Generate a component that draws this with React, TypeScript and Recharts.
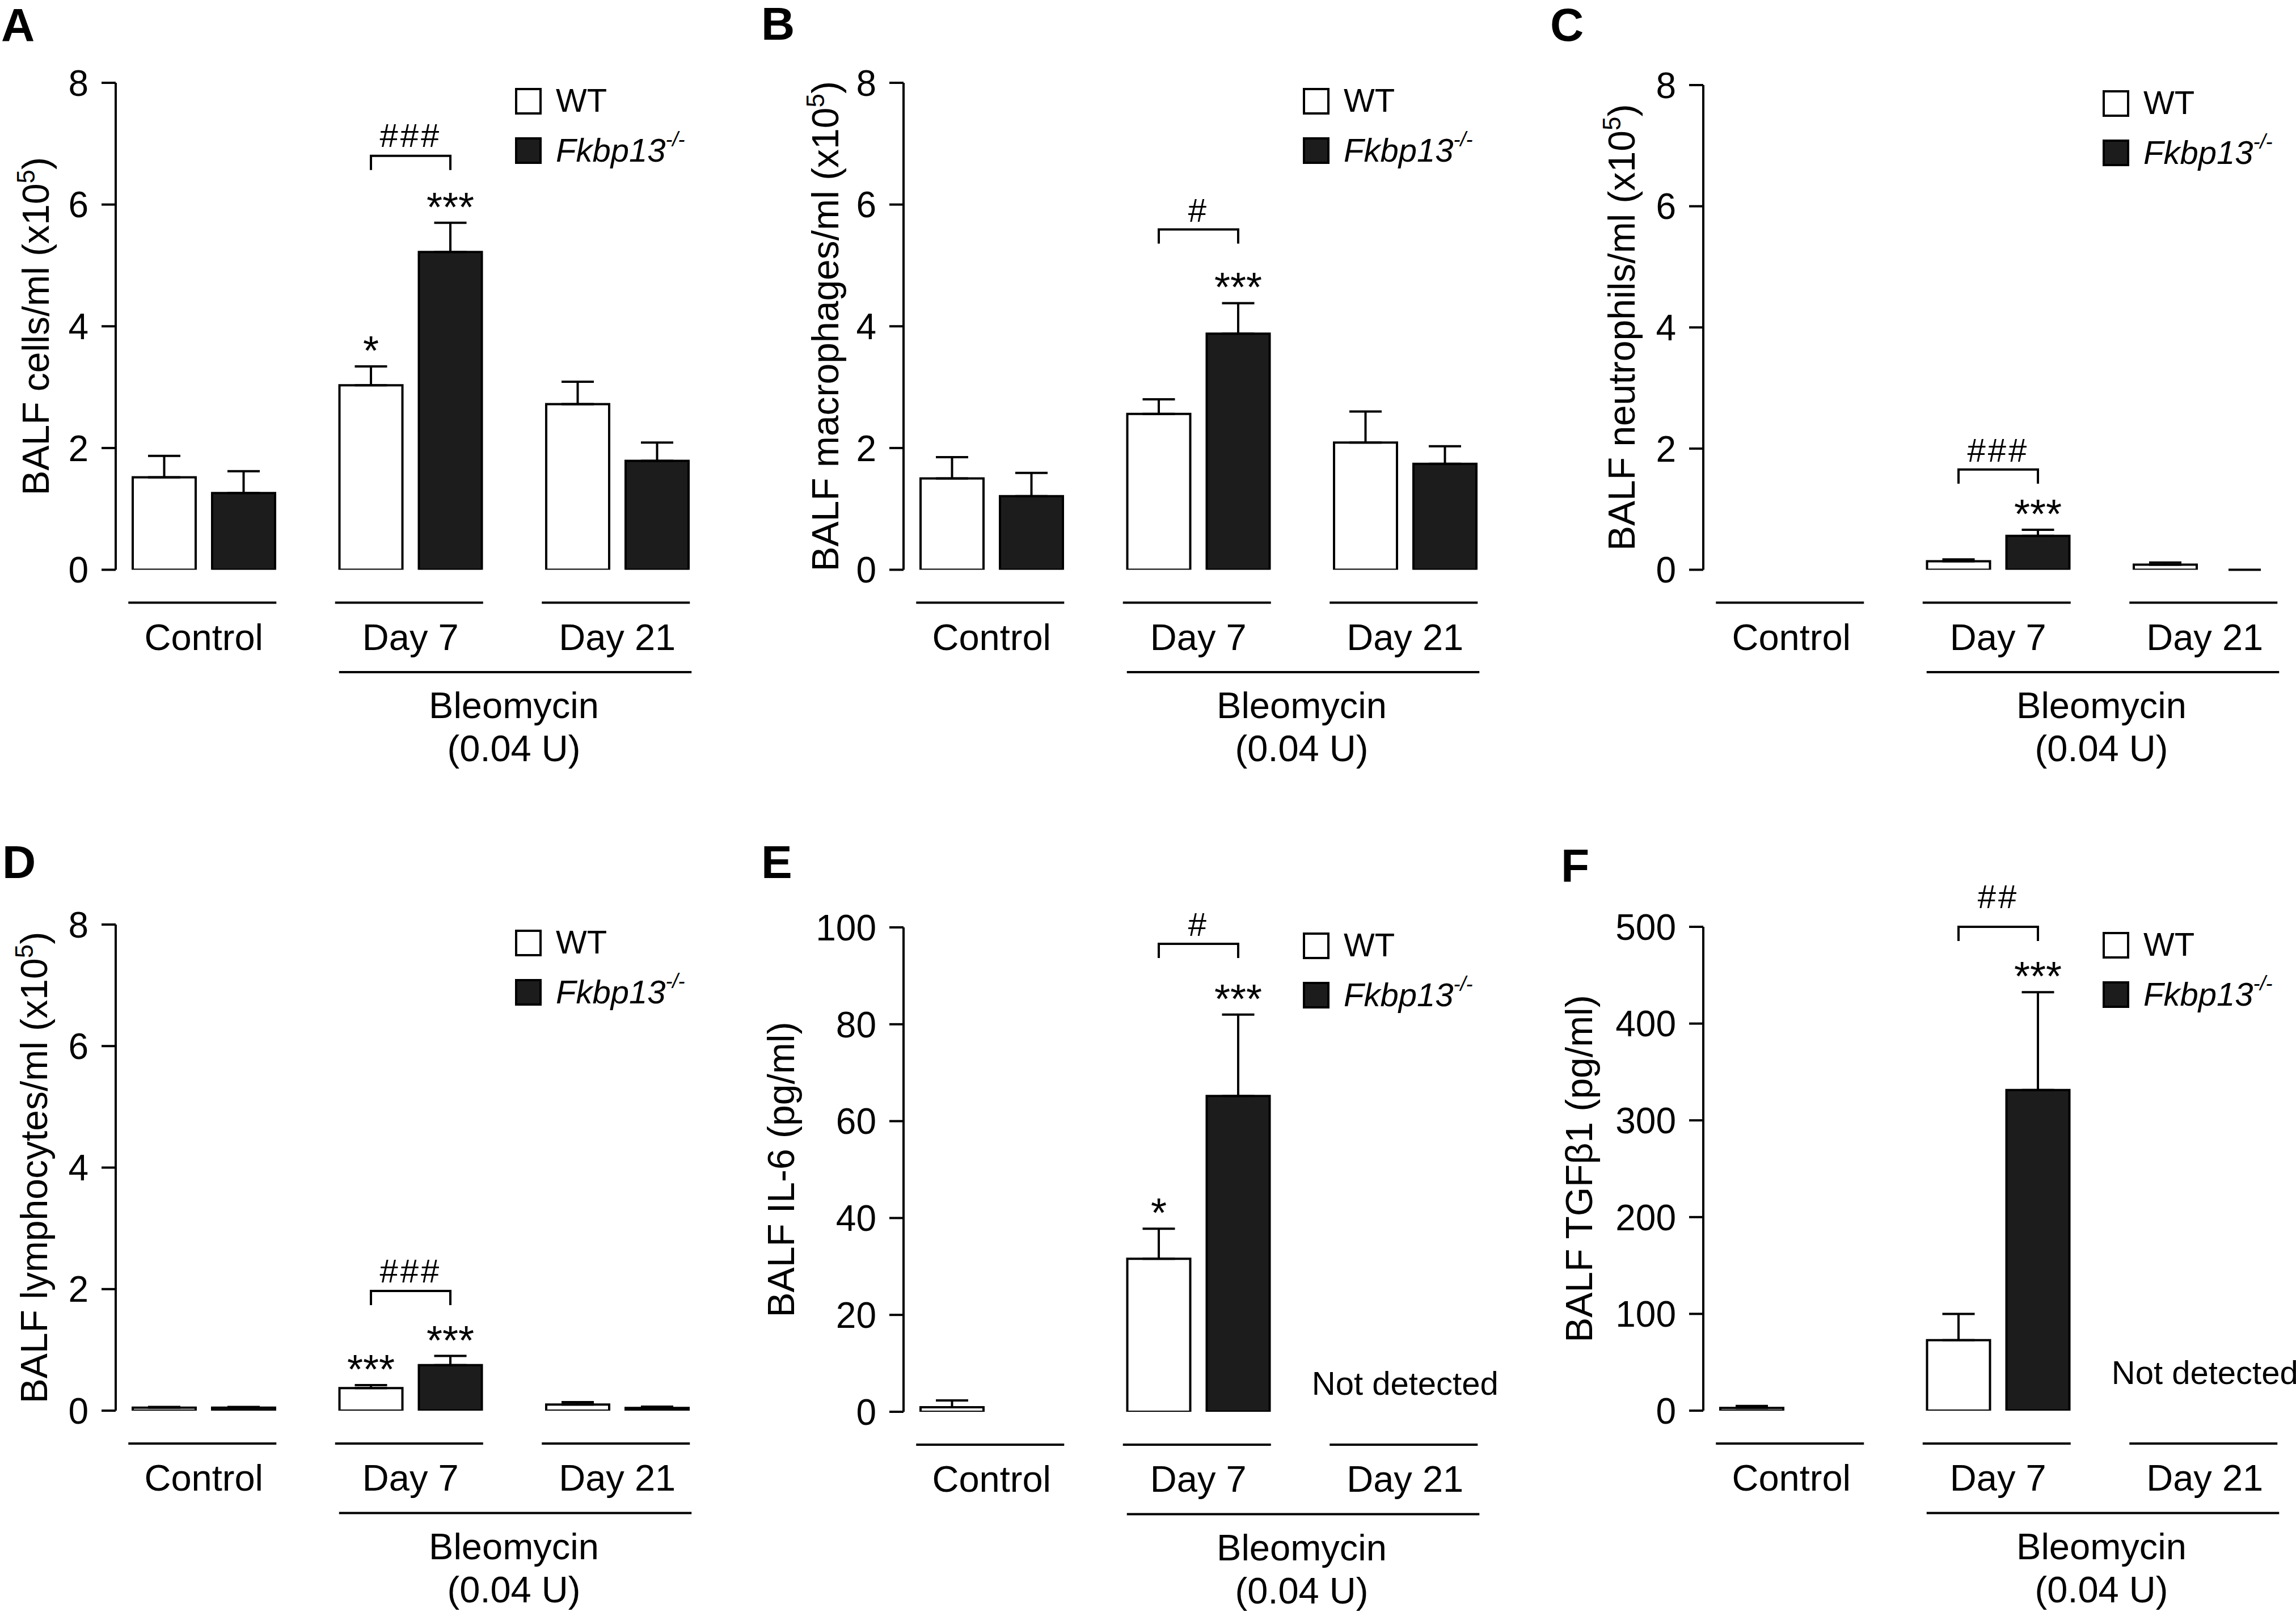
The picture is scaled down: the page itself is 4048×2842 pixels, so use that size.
import React from 'react'
import { BarChart, Bar, XAxis, YAxis, ErrorBar, LabelList } from 'recharts'

const FONT = '"Liberation Sans", Arial, Helvetica, sans-serif'

const groups = ['Control', 'Day 7', 'Day 21']

// A: BALF cells/ml (x10^5)
const cellsWT = [1.52, 3.03, 2.72]
const cellsWTErr = [0.35, 0.31, 0.37]
const cellsKO = [1.26, 5.22, 1.79]
const cellsKOErr = [0.36, 0.48, 0.3]

// B: macrophages
const macroWT = [1.5, 2.56, 2.09]
const macroWTErr = [0.35, 0.24, 0.51]
const macroKO = [1.21, 3.88, 1.74]
const macroKOErr = [0.38, 0.5, 0.29]

// C: neutrophils
const neutroWT = [null, 0.14, 0.085]
const neutroWTErr = [null, 0.03, 0.035]
const neutroKO = [null, 0.56, 0]
const neutroKOErr = [null, 0.1, 0]

// D: lymphocytes
const lymphoWT = [0.05, 0.37, 0.1]
const lymphoWTErr = [0.01, 0.05, 0.04]
const lymphoKO = [0.05, 0.75, 0.045]
const lymphoKOErr = [0.01, 0.15, 0.02]

// E: IL-6 (pg/ml)
const il6WT = [0.94, 31.6, null]
const il6WTErr = [1.4, 6.2, null]
const il6KO = [null, 65.2, null]
const il6KOErr = [null, 16.8, null]

// F: TGFb1 (pg/ml)
const tgfWT = [2.8, 72.9, null]
const tgfWTErr = [2.0, 27.1, null]
const tgfKO = [null, 331.3, null]
const tgfKOErr = [null, 101.1, null]

const cellTicks = [0, 2, 4, 6, 8]
const il6Ticks = [0, 20, 40, 60, 80, 100]
const tgfTicks = [0, 100, 200, 300, 400, 500]

// significance marks
const sigA = { wt: ['', '*', ''], ko: ['', '***', ''], hash: ['', '###', ''], level: [null, 6.8, null] }
const sigB = { wt: ['', '', ''], ko: ['', '***', ''], hash: ['', '#', ''], level: [null, 5.59, null] }
const sigC = { wt: ['', '', ''], ko: ['', '***', ''], hash: ['', '###', ''], level: [null, 1.655, null] }
const sigD = { wt: ['', '***', ''], ko: ['', '***', ''], hash: ['', '###', ''], level: [null, 1.97, null] }
const sigE = { wt: ['', '*', ''], ko: ['', '***', ''], hash: ['', '#', ''], level: [null, 96.6, null] }
const sigF = { wt: ['', '', ''], ko: ['', '***', ''], hash: ['', '##', ''], level: [null, 500, null] }

const notDetected = [false, false, true]
const allDetected = [false, false, false]

type V = number | null

function makeRows(wt: V[], wtErr: V[], ko: V[], koErr: V[], sig: any, nd: boolean[]) {
  return groups.map((group, i) => ({
    group,
    wt: wt[i],
    ko: ko[i],
    wtErr: wtErr[i] == null ? null : [0, wtErr[i]],
    koErr: koErr[i] == null ? null : [0, koErr[i]],
    wtNote: wt[i] != null
      ? { val: wt[i], err: wtErr[i] ?? 0, sig: sig.wt[i], hash: sig.hash[i], level: sig.level[i], koZero: ko[i] === 0 }
      : null,
    koNote: ko[i] ? { val: ko[i], err: koErr[i] ?? 0, sig: sig.ko[i] } : null,
    nd: nd[i],
  }))
}

const Y_W = 300
const BAR = 111
const GAP = 29
const PITCH = 364.5
const PAD_L = -27
const PLOT_W = 3 * PITCH + PAD_L
const CHART_W = 1460
const ROW_H = 1421
const CAP = 28.5

const panels = [
  { letter: 'A', lx: 2, ly: 72, axisX: 204, row: 0, top: 146, zero: 1004.5, max: 8, ticks: cellTicks,
    title: ['BALF cells/ml (x10', '5', ')'], titleOff: 141, symGap: 16, ndLift: 30,
    data: makeRows(cellsWT, cellsWTErr, cellsKO, cellsKOErr, sigA, allDetected) },
  { letter: 'B', lx: 1342, ly: 70, axisX: 1593, row: 0, top: 146, zero: 1004.5, max: 8, ticks: cellTicks,
    title: ['BALF macrophages/ml (x10', '5', ')'], titleOff: 138, symGap: 14, ndLift: 30,
    data: makeRows(macroWT, macroWTErr, macroKO, macroKOErr, sigB, allDetected) },
  { letter: 'C', lx: 2733, ly: 72, axisX: 3003, row: 0, top: 150, zero: 1004.5, max: 8, ticks: cellTicks,
    title: ['BALF neutrophils/ml (x10', '5', ')'], titleOff: 144, symGap: 14, ndLift: 30,
    data: makeRows(neutroWT, neutroWTErr, neutroKO, neutroKOErr, sigC, allDetected) },
  { letter: 'D', lx: 4, ly: 1548, axisX: 204, row: 1, top: 1630, zero: 2487, max: 8, ticks: cellTicks,
    title: ['BALF lymphocytes/ml (x10', '5', ')'], titleOff: 144, symGap: 15, ndLift: 30,
    data: makeRows(lymphoWT, lymphoWTErr, lymphoKO, lymphoKOErr, sigD, allDetected) },
  { letter: 'E', lx: 1342, ly: 1548, axisX: 1593, row: 1, top: 1635, zero: 2489, max: 100, ticks: il6Ticks,
    title: ['BALF IL-6 (pg/ml)', '', ''], titleOff: 216, symGap: 14, ndLift: 30,
    data: makeRows(il6WT, il6WTErr, il6KO, il6KOErr, sigE, notDetected) },
  { letter: 'F', lx: 2752, ly: 1555, axisX: 3003, row: 1, top: 1634, zero: 2487, max: 500, ticks: tgfTicks,
    title: ['BALF TGF\u03b21 (pg/ml)', '', ''], titleOff: 219, symGap: 33, ndLift: 47,
    data: makeRows(tgfWT, tgfWTErr, tgfKO, tgfKOErr, sigF, notDetected) },
]

type Panel = (typeof panels)[number]

function noteRenderer(p: Panel, isWT: boolean) {
  return (props: any) => {
    const note = props.value
    if (!note || typeof note !== 'object') return null
    const vb = props.viewBox ?? props
    const x = Number(vb.x)
    const y = Number(vb.y)
    const w = Number(vb.width)
    const h = Number(vb.height)
    if (!(h > 0)) return null
    const cx = x + w / 2
    const kx = x + w + GAP + w / 2
    const ppu = h / note.val
    const errTop = y - note.err * ppu
    return (
      <g fontFamily={FONT} fill="#000">
        {note.sig ? (
          <text x={cx} y={errTop - 3} textAnchor="middle" fontSize={72}>{note.sig}</text>
        ) : null}
        {isWT && note.koZero ? (
          // neighbouring KO bar is zero with zero SEM: only its error cap sits on the baseline
          <line x1={kx - CAP} x2={kx + CAP} y1={y + h} y2={y + h} stroke="#000" strokeWidth={4} />
        ) : null}
        {isWT && note.level != null ? (() => {
          const by = y + h - note.level * ppu
          return (
            <g>
              <path d={`M${cx},${by + 25}V${by}H${kx}V${by + 25}`} fill="none" stroke="#000" strokeWidth={4} />
              <text x={(cx + kx) / 2} y={by - p.symGap} textAnchor="middle" fontSize={58} letterSpacing={4}>{note.hash}</text>
            </g>
          )
        })() : null}
      </g>
    )
  }
}

function PanelChart({ p }: { p: Panel }) {
  const originX = p.axisX - Y_W
  const originY = p.row * ROW_H
  const xAxisH = originY + ROW_H - p.zero
  const titleX = Y_W - p.titleOff + 23
  const titleY = (p.top + p.zero) / 2 - originY

  const groupTick = (t: any) => {
    const { x, y, payload } = t
    const row = p.data.find((r) => r.group === payload.value)
    return (
      <g fontFamily={FONT} fill="#000">
        <line x1={x - 133} x2={x + 128} y1={y + 58} y2={y + 58} stroke="#000" strokeWidth={4} />
        <text x={x} y={y + 141} textAnchor="middle" fontSize={65}>{payload.value}</text>
        {payload.value === 'Day 21' ? (
          <g>
            <line x1={x - PITCH - 126} x2={x + 131} y1={y + 180.5} y2={y + 180.5} stroke="#000" strokeWidth={4} />
            <text x={x - PITCH / 2} y={y + 261.5} textAnchor="middle" fontSize={65}>Bleomycin</text>
            <text x={x - PITCH / 2} y={y + 337.5} textAnchor="middle" fontSize={65}>(0.04 U)</text>
          </g>
        ) : null}
        {row && row.nd ? (
          <text x={x} y={y - p.ndLift} textAnchor="middle" fontSize={58}>Not detected</text>
        ) : null}
      </g>
    )
  }

  const title = () => (
    <text
      transform={`translate(${titleX},${titleY}) rotate(-90)`}
      textAnchor="middle"
      fontSize={66}
      fontFamily={FONT}
      fill="#000"
    >
      {p.title[0]}
      {p.title[1] ? <tspan dy={-25} fontSize={44}>{p.title[1]}</tspan> : null}
      {p.title[2] ? <tspan dy={25}>{p.title[2]}</tspan> : null}
    </text>
  )

  return (
    <div style={{ position: 'absolute', left: originX, top: originY }}>
      <BarChart
        width={CHART_W}
        height={ROW_H}
        data={p.data}
        margin={{ top: p.top - originY, right: CHART_W - Y_W - PLOT_W, bottom: 0, left: 0 }}
        barSize={BAR}
        barGap={GAP}
      >
        <XAxis
          dataKey="group"
          axisLine={false}
          tickLine={false}
          tickSize={0}
          tickMargin={0}
          height={xAxisH}
          interval={0}
          padding={{ left: PAD_L, right: 0 }}
          tick={groupTick}
        />
        <YAxis
          domain={[0, p.max]}
          ticks={p.ticks}
          allowDataOverflow
          interval={0}
          width={Y_W}
          axisLine={{ stroke: '#000', strokeWidth: 4 }}
          tickLine={{ stroke: '#000', strokeWidth: 4 }}
          tickSize={25}
          tickMargin={23}
          tick={{ fill: '#000', fontSize: 64, fontFamily: FONT }}
          label={{ content: title }}
        />
        <Bar dataKey="wt" fill="#ffffff" stroke="#000" strokeWidth={4} isAnimationActive={false}>
          <ErrorBar dataKey="wtErr" direction="y" width={CAP} stroke="#000" strokeWidth={4} isAnimationActive={false} />
          <LabelList dataKey="wtNote" content={noteRenderer(p, true)} />
        </Bar>
        <Bar dataKey="ko" fill="#1c1c1c" stroke="#000" strokeWidth={4} isAnimationActive={false}>
          <ErrorBar dataKey="koErr" direction="y" width={CAP} stroke="#000" strokeWidth={4} isAnimationActive={false} />
          <LabelList dataKey="koNote" content={noteRenderer(p, false)} />
        </Bar>
      </BarChart>
    </div>
  )
}

function LegendKey({ x, y }: { x: number; y: number }) {
  return (
    <g fontFamily={FONT} fontSize={58} fill="#000">
      <rect x={x + 2} y={y + 2} width={43} height={43} fill="#fff" stroke="#000" strokeWidth={4} />
      <text x={x + 72} y={y + 42}>WT</text>
      <rect x={x + 2} y={y + 89} width={43} height={43} fill="#1c1c1c" stroke="#000" strokeWidth={4} />
      <text x={x + 72} y={y + 130} fontStyle="italic">
        Fkbp13<tspan fontSize={36} dy={-27}>-/-</tspan>
      </text>
    </g>
  )
}

export default function App() {
  return (
    <div
      style={{
        position: 'absolute',
        left: 0,
        top: 0,
        width: 4048,
        height: 2842,
        overflow: 'hidden',
        background: '#fff',
        fontFamily: FONT,
      }}
    >
      {panels.map((p) => (
        <PanelChart key={p.letter} p={p} />
      ))}
      <svg
        width={4048}
        height={2842}
        style={{ position: 'absolute', left: 0, top: 0, pointerEvents: 'none' }}
      >
        {panels.map((p) => (
          <g key={p.letter}>
            <text x={p.lx} y={p.ly} fontFamily={FONT} fontWeight="bold" fontSize={82} fill="#000">
              {p.letter}
            </text>
            <LegendKey x={p.axisX + 704} y={p.top + 9} />
          </g>
        ))}
      </svg>
    </div>
  )
}
